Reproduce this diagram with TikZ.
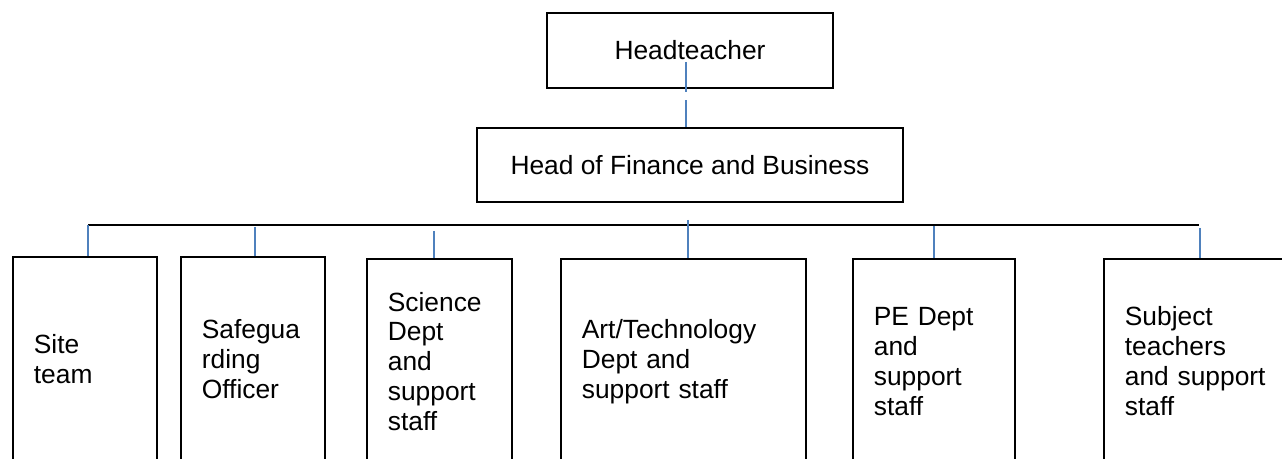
\documentclass[tikz,border=0pt]{standalone}
\usepackage{fontspec}
\setmainfont{Liberation Sans}
\usepackage{xcolor}
\definecolor{linkblue}{RGB}{79,129,189}

\begin{document}
\begin{tikzpicture}[x=0.02cm,y=-0.02cm,
  every node/.style={font=\fontsize{15pt}{17pt}\selectfont},
  topbox/.style={draw,line width=1pt,minimum height=1.5cm},
  unitbox/.style={draw,line width=1pt,anchor=north west,minimum height=4.1cm,inner xsep=0.42cm,align=left},
  link/.style={draw=linkblue,line width=0.8pt}]
\useasboundingbox (0,0) rectangle (1282,459);

\node[topbox,minimum width=5.72cm] (head) at (690,50.5) {Headteacher};
\node[topbox,minimum width=8.52cm,minimum height=1.48cm] (hof) at (690,165) {Head of Finance and Business};

\node[unitbox,text width=2.04cm] (site) at (12,256) {Site\\team};
\node[unitbox,text width=2.04cm] (safe) at (180,256) {Safegua\\rding\\Officer};
\node[unitbox,text width=2.06cm] (sci) at (366,258) {Science\\Dept\\and\\support\\staff};
\node[unitbox,text width=4.06cm] (art) at (560,258) {Art/Technology\\Dept and\\support staff};
\node[unitbox,text width=2.4cm] (pe) at (852,258) {PE Dept\\and\\support\\staff};
\node[unitbox,text width=3.04cm] (subj) at (1103,258) {Subject\\teachers\\and support\\staff};

% head to finance
\draw[link] ([xshift=-0.08cm,yshift=-0.23cm]head.center) -- ([xshift=-0.08cm,yshift=-0.06cm]head.south);
\draw[link] ([xshift=-0.08cm,yshift=0.54cm]hof.north) -- ([xshift=-0.08cm]hof.north);

% bar over the departments
\coordinate (barL) at (88,225);
\coordinate (barR) at (1199,225);
\draw[line width=1pt] (barL) -- (barR);

\foreach \n/\x/\t in {site/88/225, safe/255/227, sci/434/231, art/688/220, pe/934/226, subj/1200/228}
  \draw[link] (\x,\t) -- (\x,\t |- \n.north);
\end{tikzpicture}
\end{document}
